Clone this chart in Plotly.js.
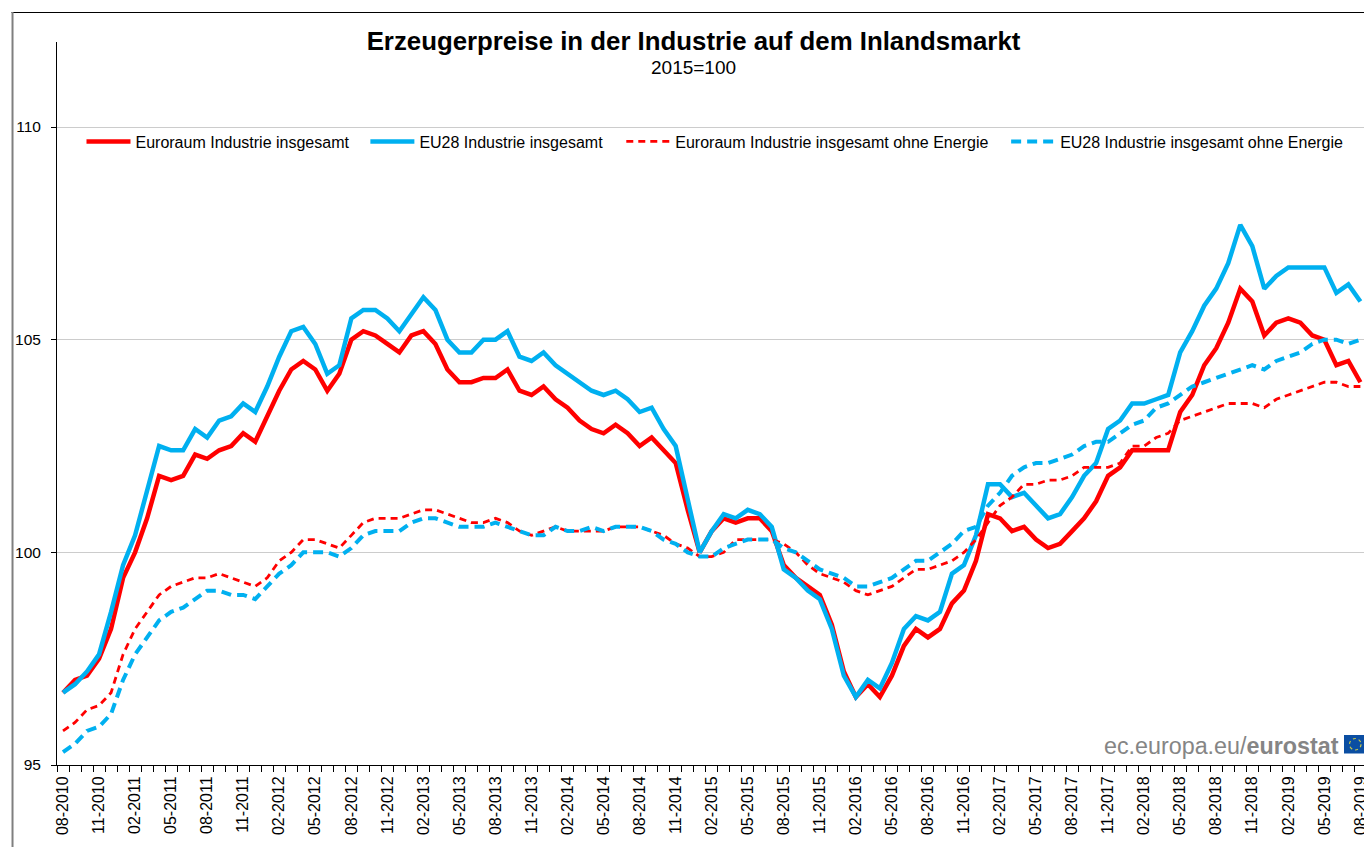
<!DOCTYPE html>
<html><head><meta charset="utf-8">
<script src="https://cdn.plot.ly/plotly-3.0.1.min.js"></script>
<style>html,body{margin:0;padding:0;background:#fff;overflow:hidden}#c{width:1364px;height:847px}</style>
</head><body><div id="c"></div>
<script>
const startYear = 2010, startMonth = 8, monthCount = 109;
const months = [];
for (let i = 0; i < monthCount; i++) {
  const m = (startMonth - 1 + i) % 12 + 1, y = startYear + Math.floor((startMonth - 1 + i) / 12);
  months.push(String(m).padStart(2, '0') + '-' + y);
}
const euroTotal = [96.7,97.0,97.1,97.5,98.2,99.4,100.0,100.8,101.8,101.7,101.8,102.3,102.2,102.4,102.5,102.8,102.6,103.2,103.8,104.3,104.5,104.3,103.8,104.2,105.0,105.2,105.1,104.9,104.7,105.1,105.2,104.9,104.3,104.0,104.0,104.1,104.1,104.3,103.8,103.7,103.9,103.6,103.4,103.1,102.9,102.8,103.0,102.8,102.5,102.7,102.4,102.1,101.0,100.0,100.5,100.8,100.7,100.8,100.8,100.5,99.7,99.4,99.2,99.0,98.3,97.2,96.6,96.9,96.6,97.1,97.8,98.2,98.0,98.2,98.8,99.1,99.8,100.9,100.8,100.5,100.6,100.3,100.1,100.2,100.5,100.8,101.2,101.8,102.0,102.4,102.4,102.4,102.4,103.3,103.7,104.4,104.8,105.4,106.2,105.9,105.1,105.4,105.5,105.4,105.1,105.0,104.4,104.5,104.0];
const eu28Total = [96.7,96.9,97.2,97.6,98.6,99.7,100.4,101.5,102.5,102.4,102.4,102.9,102.7,103.1,103.2,103.5,103.3,103.9,104.6,105.2,105.3,104.9,104.2,104.4,105.5,105.7,105.7,105.5,105.2,105.6,106.0,105.7,105.0,104.7,104.7,105.0,105.0,105.2,104.6,104.5,104.7,104.4,104.2,104.0,103.8,103.7,103.8,103.6,103.3,103.4,102.9,102.5,101.2,100.0,100.5,100.9,100.8,101.0,100.9,100.6,99.6,99.4,99.1,98.9,98.2,97.1,96.6,97.0,96.8,97.4,98.2,98.5,98.4,98.6,99.5,99.7,100.4,101.6,101.6,101.3,101.4,101.1,100.8,100.9,101.3,101.8,102.1,102.9,103.1,103.5,103.5,103.6,103.7,104.7,105.2,105.8,106.2,106.8,107.7,107.2,106.2,106.5,106.7,106.7,106.7,106.7,106.1,106.3,105.9];
const euroExEnergy = [95.8,96.0,96.3,96.4,96.7,97.6,98.2,98.6,99.0,99.2,99.3,99.4,99.4,99.5,99.4,99.3,99.2,99.4,99.8,100.0,100.3,100.3,100.2,100.1,100.4,100.7,100.8,100.8,100.8,100.9,101.0,101.0,100.9,100.8,100.7,100.7,100.8,100.7,100.5,100.4,100.5,100.6,100.5,100.5,100.5,100.5,100.6,100.6,100.6,100.5,100.4,100.2,100.1,99.9,99.9,100.0,100.3,100.3,100.3,100.3,100.2,100.0,99.7,99.5,99.4,99.3,99.1,99.0,99.1,99.2,99.4,99.6,99.6,99.7,99.8,100.0,100.3,100.7,101.1,101.3,101.6,101.6,101.7,101.7,101.8,102.0,102.0,102.0,102.1,102.5,102.5,102.7,102.8,103.1,103.2,103.3,103.4,103.5,103.5,103.5,103.4,103.6,103.7,103.8,103.9,104.0,104.0,103.9,103.9];
const eu28ExEnergy = [95.3,95.5,95.8,95.9,96.2,97.0,97.6,98.0,98.4,98.6,98.7,98.9,99.1,99.1,99.0,99.0,98.9,99.2,99.5,99.7,100.0,100.0,100.0,99.9,100.1,100.4,100.5,100.5,100.5,100.7,100.8,100.8,100.7,100.6,100.6,100.6,100.7,100.6,100.5,100.4,100.4,100.6,100.5,100.5,100.6,100.5,100.6,100.6,100.6,100.5,100.3,100.2,100.0,99.9,99.9,100.1,100.2,100.3,100.3,100.3,100.1,100.0,99.8,99.6,99.5,99.4,99.2,99.2,99.3,99.4,99.6,99.8,99.8,100.0,100.2,100.5,100.6,101.1,101.4,101.8,102.0,102.1,102.1,102.2,102.3,102.5,102.6,102.6,102.8,103.0,103.1,103.4,103.5,103.7,103.9,104.0,104.1,104.2,104.3,104.4,104.3,104.5,104.6,104.7,104.9,105.0,105.0,104.9,105.0];

const seriesNames = ['Euroraum Industrie insgesamt','EU28 Industrie insgesamt','Euroraum Industrie insgesamt ohne Energie','EU28 Industrie insgesamt ohne Energie'];
const yTicks = [95,100,105,110];
const RED = '#ff0000', BLUE = '#00b0f0';
const FONT = '"Liberation Sans", Arial, sans-serif';
const W = 1364, H = 847;

const mk = (y, name, color, width, dash, legend) => ({
  type:'scatter', mode:'lines', x:months, y, name, legend,
  line:{color, width, dash: dash || 'solid', shape:'linear'}, hoverinfo:'x+y+name'
});
const data = [
  mk(euroTotal, seriesNames[0], RED, 4.5, 'solid', 'legend'),
  mk(eu28Total, seriesNames[1], BLUE, 4.5, 'solid', 'legend2'),
  mk(euroExEnergy, seriesNames[2], RED, 2.8, '7px,5px', 'legend3'),
  mk(eu28ExEnergy, seriesNames[3], BLUE, 4, '10px,6px', 'legend4')
];
const mL = 56.5, mT = 42, mB = 82;
const plotH = H - mT - mB, plotW = W - mL;
const fx = v => (v - mL) / plotW, fy = v => (H - mB - v) / plotH; // pixel -> paper
const leg = x => ({x:fx(x), xanchor:'left', y:fy(141.5), yanchor:'middle', orientation:'h',
  font:{family:FONT, size:16, color:'#000'}, bgcolor:'rgba(0,0,0,0)', itemwidth:44, itemclick:false, itemdoubleclick:false});

const layout = {
  width:W, height:H, paper_bgcolor:'#fff', plot_bgcolor:'#fff',
  margin:{l:mL, r:0, t:mT, b:mB, pad:0},
  font:{family:FONT, color:'#000', size:14},
  title:{text:'<b>Erzeugerpreise in der Industrie auf dem Inlandsmarkt</b>', font:{family:FONT, size:25.8, color:'#000'},
    x:693.5/W, xanchor:'center', xref:'container', y:1-41/H, yanchor:'middle', yref:'container'},
  showlegend:true,
  legend:leg(81), legend2:leg(365), legend3:leg(621), legend4:leg(1006),
  xaxis:{type:'category', categoryorder:'array', categoryarray:months, range:[-0.5,108.3], tickson:'boundaries', dtick:1, ticklabelstep:3,
    ticks:'outside', ticklen:6, tickwidth:1, tickcolor:'#000', showline:true, linecolor:'#000', linewidth:1,
    showgrid:false, zeroline:false, tickangle:-90, ticklabeloverflow:'allow', ticklabelstandoff:4,
    tickfont:{family:FONT, size:16, color:'#000'}, automargin:false},
  yaxis:{range:[95,112], tickmode:'array', tickvals:yTicks, ticktext:yTicks.map(String), ticks:'outside', ticklen:5, tickcolor:'#000',
    showline:true, linecolor:'#000', linewidth:1, showgrid:true, gridcolor:'#cccccc', gridwidth:1, zeroline:false, ticklabelstandoff:7,
    tickfont:{family:FONT, size:15.5, color:'#000'}, automargin:false},
  shapes:[
    {type:'line', xref:'paper', yref:'paper', x0:fx(11), x1:fx(W), y0:fy(12.5), y1:fy(12.5), line:{color:'#000', width:1}},
    {type:'line', xref:'paper', yref:'paper', x0:fx(12), x1:fx(12), y0:fy(12), y1:fy(H), line:{color:'#7f7f7f', width:2}},
    {type:'rect', xref:'paper', yref:'paper', x0:fx(1344), x1:fx(1364), y0:fy(735), y1:fy(753.5), fillcolor:'#0b4ea2', line:{width:0}},
    {type:'circle', xref:'paper', yref:'paper', x0:fx(1349.5), x1:fx(1361), y0:fy(738.5), y1:fy(750), fillcolor:'rgba(0,0,0,0)', line:{color:'#c9c94a', width:1.2, dash:'dot'}}
  ],
  annotations:[
    {xref:'paper', yref:'paper', x:fx(693.5), y:fy(67), xanchor:'center', yanchor:'middle', showarrow:false,
     text:'2015=100', font:{family:FONT, size:19, color:'#000'}},
    {xref:'paper', yref:'paper', x:fx(1341), y:fy(745.5), xanchor:'right', yanchor:'middle', showarrow:false,
     text:'ec.europa.eu/<b>eurostat</b>', font:{family:FONT, size:23.3, color:'#858585'}}
  ]
};
Plotly.newPlot('c', data, layout, {displayModeBar:false, responsive:false});
</script></body></html>
